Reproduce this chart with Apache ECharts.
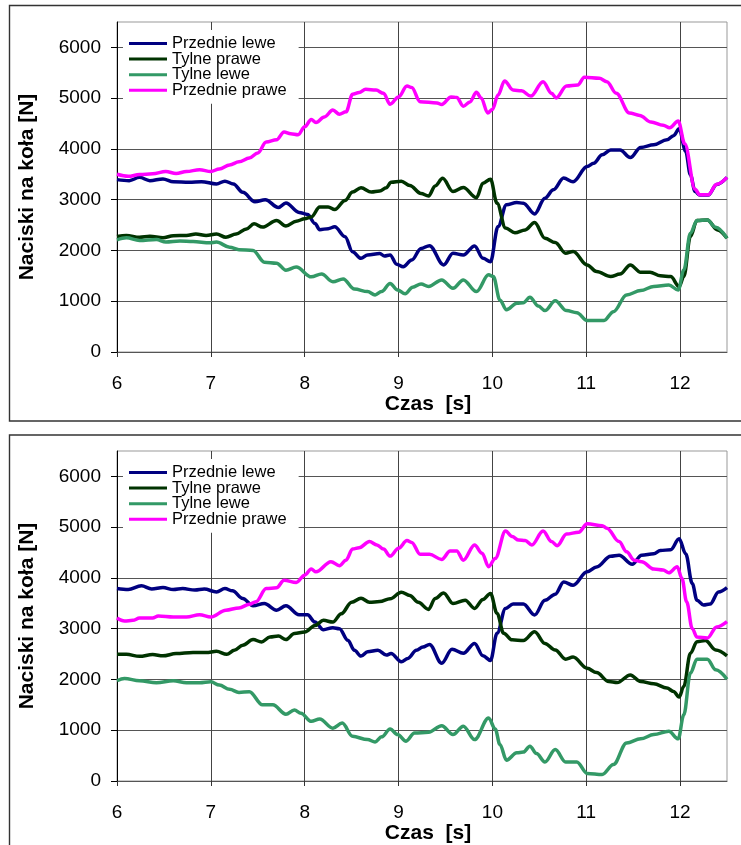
<!DOCTYPE html>
<html>
<head>
<meta charset="utf-8">
<script src="https://cdn.jsdelivr.net/npm/echarts@6/dist/echarts.min.js"></script>
<style>
  html, body { margin: 0; padding: 0; background: #fff; }
  #chart { width: 741px; height: 845px; }
</style>
</head>
<body>
<div id="chart"></div>
<script>
// Series names (legend order)
const seriesNames = ['Przednie lewe', 'Tylne prawe', 'Tylne lewe', 'Przednie prawe'];
const seriesColors = ['#000080', '#003300', '#339966', '#FF00FF'];

// Axis ticks
const timeTicks = [6, 7, 8, 9, 10, 11, 12];
const forceTicks = [0, 1000, 2000, 3000, 4000, 5000, 6000];

// ---------- Upper chart ----------
const upFrontLeftT = [6.00,6.13,6.24,6.35,6.49,6.60,6.77,6.90,7.06,7.15,7.24,7.34,7.47,7.58,7.72,7.80,7.94,8.03,8.11,8.16,8.25,8.32,8.43,8.51,8.60,8.67,8.80,8.85,8.91,8.98,9.05,9.14,9.24,9.33,9.48,9.58,9.69,9.81,9.90,9.98,10.06,10.15,10.26,10.33,10.45,10.56,10.65,10.76,10.86,11.01,11.08,11.17,11.26,11.36,11.47,11.58,11.72,11.86,11.93,11.99,12.06,12.11,12.16,12.21,12.30,12.39,12.50];
const upFrontLeftV = [3395,3375,3440,3375,3410,3355,3345,3355,3310,3365,3310,3145,2960,3000,2845,2935,2750,2710,2530,2410,2430,2465,2270,1975,1845,1910,1940,1890,1910,1730,1680,1810,2040,2095,1715,1945,1910,2090,1845,1780,2470,2900,2945,2930,2720,3030,3195,3425,3355,3655,3720,3885,3980,3980,3830,4030,4080,4180,4260,4395,3950,3490,3160,3090,3090,3300,3440];

const upRearRightT = [6.00,6.10,6.24,6.35,6.49,6.60,6.74,6.84,6.95,7.06,7.16,7.27,7.38,7.46,7.55,7.70,7.80,7.91,8.00,8.07,8.16,8.25,8.32,8.43,8.51,8.60,8.71,8.80,8.87,8.92,9.03,9.12,9.24,9.32,9.39,9.47,9.58,9.69,9.83,9.90,9.98,10.05,10.14,10.24,10.35,10.45,10.56,10.67,10.78,10.86,11.01,11.11,11.26,11.36,11.47,11.58,11.68,11.79,11.90,11.99,12.04,12.11,12.18,12.29,12.40,12.50];
const upRearRightV = [2275,2295,2260,2280,2250,2290,2295,2325,2295,2325,2260,2325,2425,2525,2460,2590,2480,2575,2625,2660,2855,2855,2805,2985,3150,3235,3150,3170,3235,3345,3365,3280,3120,3075,3270,3420,3160,3240,3040,3325,3405,2930,2440,2350,2405,2550,2240,2155,1945,1980,1715,1585,1485,1535,1715,1570,1570,1500,1485,1290,1485,2275,2590,2600,2405,2240];

const upRearLeftT = [6.00,6.10,6.24,6.42,6.52,6.67,6.81,6.99,7.06,7.20,7.30,7.45,7.57,7.70,7.80,7.91,8.07,8.18,8.30,8.41,8.53,8.67,8.75,8.82,8.91,8.99,9.07,9.15,9.24,9.32,9.46,9.58,9.69,9.83,9.96,10.01,10.08,10.15,10.26,10.33,10.40,10.49,10.56,10.67,10.79,10.90,11.01,11.19,11.29,11.43,11.58,11.72,11.88,11.98,12.04,12.11,12.18,12.29,12.38,12.50];
const upRearLeftV = [2210,2250,2195,2215,2165,2185,2175,2150,2165,2065,2015,2000,1770,1750,1610,1675,1480,1535,1385,1440,1240,1190,1125,1190,1350,1220,1145,1275,1340,1290,1420,1255,1420,1190,1520,1485,1025,830,960,970,1080,905,815,1010,815,775,620,620,795,1125,1210,1290,1320,1220,1615,2340,2590,2600,2455,2240];

const upFrontRightT = [6.00,6.12,6.24,6.38,6.52,6.63,6.74,6.88,7.00,7.09,7.20,7.30,7.41,7.50,7.59,7.70,7.78,7.85,7.93,8.00,8.07,8.12,8.21,8.30,8.37,8.44,8.51,8.58,8.65,8.76,8.84,8.91,9.00,9.09,9.14,9.23,9.41,9.46,9.56,9.62,9.69,9.76,9.83,9.88,9.95,10.00,10.06,10.13,10.22,10.31,10.41,10.54,10.63,10.68,10.79,10.91,10.98,11.14,11.22,11.32,11.46,11.57,11.69,11.82,11.89,11.98,12.05,12.16,12.21,12.30,12.39,12.50];
const upFrontRightV = [3500,3460,3495,3510,3555,3515,3555,3590,3555,3605,3685,3745,3820,3920,4135,4180,4335,4300,4280,4435,4580,4520,4630,4765,4685,4730,5075,5110,5175,5160,5095,4880,5025,5240,5210,4930,4905,4875,5025,5015,4840,4925,5115,5005,4710,4775,5060,5340,5160,5145,5040,5325,5095,5005,5240,5260,5410,5390,5325,5095,4710,4660,4530,4465,4415,4550,4100,3205,3095,3095,3305,3440];

// ---------- Lower chart ----------
const lowFrontLeftT = [6.00,6.12,6.26,6.37,6.49,6.60,6.70,6.83,6.93,7.06,7.15,7.23,7.34,7.45,7.57,7.70,7.80,7.94,8.03,8.11,8.20,8.30,8.37,8.46,8.53,8.60,8.67,8.78,8.87,8.92,9.03,9.10,9.19,9.26,9.33,9.46,9.57,9.69,9.81,9.90,9.98,10.05,10.14,10.22,10.33,10.45,10.56,10.67,10.76,10.86,11.01,11.11,11.26,11.35,11.49,11.59,11.72,11.79,11.90,11.99,12.06,12.13,12.18,12.25,12.32,12.41,12.50];
const lowFrontLeftV = [3790,3770,3845,3780,3810,3770,3790,3760,3780,3725,3790,3745,3595,3450,3495,3365,3450,3275,3275,3130,2980,3020,3000,2770,2575,2460,2545,2575,2480,2510,2350,2415,2575,2640,2690,2320,2595,2515,2710,2465,2375,2910,3400,3485,3485,3270,3560,3680,3920,3855,4120,4215,4425,4445,4270,4445,4475,4540,4555,4770,4475,3890,3560,3465,3485,3725,3810];

const lowRearRightT = [6.00,6.10,6.24,6.38,6.49,6.63,6.81,6.95,7.06,7.17,7.25,7.34,7.45,7.54,7.63,7.72,7.80,7.89,8.00,8.11,8.20,8.30,8.39,8.50,8.60,8.69,8.80,8.91,9.03,9.12,9.21,9.32,9.39,9.48,9.58,9.71,9.81,9.90,9.98,10.05,10.12,10.21,10.33,10.45,10.56,10.67,10.78,10.86,11.01,11.11,11.24,11.33,11.47,11.58,11.72,11.86,11.93,11.99,12.04,12.11,12.18,12.27,12.38,12.50];
const lowRearRightV = [2495,2495,2455,2490,2465,2510,2530,2530,2555,2495,2575,2675,2785,2740,2835,2855,2785,2905,2935,3065,3165,3130,3295,3520,3600,3520,3535,3590,3720,3655,3520,3380,3595,3705,3495,3560,3400,3575,3695,3300,2910,2780,2765,2940,2710,2580,2400,2440,2220,2135,1960,1940,2090,1960,1915,1830,1765,1655,1865,2515,2745,2765,2580,2465];

const lowRearLeftT = [6.00,6.08,6.24,6.42,6.60,6.74,6.88,7.00,7.09,7.20,7.30,7.41,7.55,7.66,7.80,7.89,7.96,8.07,8.16,8.30,8.40,8.51,8.67,8.75,8.82,8.91,8.99,9.08,9.17,9.32,9.46,9.58,9.69,9.81,9.96,10.03,10.08,10.15,10.26,10.33,10.40,10.47,10.56,10.67,10.78,10.90,11.01,11.17,11.29,11.43,11.58,11.72,11.88,11.98,12.04,12.11,12.18,12.29,12.38,12.50];
const lowRearLeftV = [1975,2020,1975,1935,1975,1935,1935,1955,1890,1805,1745,1760,1500,1500,1315,1400,1335,1175,1220,1040,1140,880,815,770,870,1025,915,785,945,960,1090,915,1080,815,1240,1025,720,410,555,570,685,540,375,620,375,375,150,130,325,750,830,915,980,830,1305,2125,2400,2400,2190,2005];

const lowFrontRightT = [6.00,6.08,6.17,6.24,6.38,6.44,6.60,6.74,6.88,7.00,7.16,7.30,7.41,7.48,7.59,7.70,7.78,7.91,8.00,8.07,8.12,8.28,8.37,8.44,8.51,8.58,8.69,8.77,8.84,8.91,9.00,9.09,9.14,9.23,9.33,9.46,9.55,9.62,9.69,9.81,9.89,9.96,10.03,10.14,10.21,10.28,10.35,10.42,10.54,10.63,10.69,10.79,10.92,11.01,11.17,11.22,11.35,11.43,11.51,11.59,11.72,11.82,11.88,11.97,12.02,12.07,12.13,12.18,12.29,12.39,12.50];
const lowFrontRightV = [3210,3150,3165,3210,3210,3250,3230,3230,3275,3230,3365,3410,3480,3530,3790,3805,3955,3910,4055,4175,4120,4320,4240,4350,4570,4595,4715,4650,4570,4430,4585,4735,4700,4465,4465,4365,4530,4530,4350,4650,4485,4220,4385,4925,4815,4745,4735,4650,4925,4715,4635,4865,4900,5065,5030,4980,4715,4515,4350,4320,4175,4155,4100,4220,3990,3530,3000,2835,2815,3035,3140];

const pairs = (t, v) => t.map((x, i) => [x, v[i]]);

const panels = [
  { top: 22, boxY: 5.5, boxH: 415.5, legendTop: 30,
    data: [[upFrontLeftT, upFrontLeftV], [upRearRightT, upRearRightV], [upRearLeftT, upRearLeftV], [upFrontRightT, upFrontRightV]] },
  { top: 451, boxY: 435, boxH: 440, legendTop: 459,
    data: [[lowFrontLeftT, lowFrontLeftV], [lowRearRightT, lowRearRightV], [lowRearLeftT, lowRearLeftV], [lowFrontRightT, lowFrontRightV]] }
];

const FONT = '"Liberation Sans", Arial, sans-serif';

const option = {
  animation: false,
  backgroundColor: '#ffffff',
  // frame around each chart
  graphic: panels.map(p => ({
    type: 'rect', z: -10, silent: true,
    shape: { x: 9.5, y: p.boxY, width: 760, height: p.boxH },
    style: { fill: 'none', stroke: '#333', lineWidth: 1.4 }
  })),
  grid: panels.map(p => ({
    left: 117, right: 14, top: p.top, height: 330,
    show: true, borderColor: '#999', borderWidth: 1, backgroundColor: 'transparent'
  })),
  legend: panels.map(p => ({
    orient: 'vertical', left: 123, top: p.legendTop,
    data: seriesNames, icon: 'rect', itemWidth: 38, itemHeight: 3, itemGap: -1.4,
    backgroundColor: '#ffffff', padding: [5, 12, 5, 6], selectedMode: false,
    textStyle: { fontFamily: FONT, fontSize: 16.5, color: '#000' }
  })),
  xAxis: panels.map((p, i) => ({
    type: 'value', gridIndex: i, min: 6, max: 12.5, interval: 1,
    name: 'Czas  [s]', nameLocation: 'middle', nameGap: 39,
    nameTextStyle: { fontFamily: FONT, fontSize: 21, fontWeight: 'bold', color: '#000', padding: [0, 0, 0, 12] },
    axisLine: { show: true, onZero: false, lineStyle: { color: '#555', width: 1 } },
    axisTick: { show: true, length: 5, customValues: timeTicks, lineStyle: { color: '#333' } },
    axisLabel: { customValues: timeTicks, margin: 22, fontFamily: FONT, fontSize: 19, color: '#000' },
    splitLine: { show: true, lineStyle: { color: '#444', width: 1 } }
  })),
  yAxis: panels.map((p, i) => ({
    type: 'value', gridIndex: i, min: 0, max: 6500, interval: 1000,
    name: 'Naciski na koła [N]', nameLocation: 'middle', nameGap: 79,
    nameTextStyle: { fontFamily: FONT, fontSize: 21, fontWeight: 'bold', color: '#000' },
    axisLine: { show: true, lineStyle: { color: '#000', width: 1 } },
    axisTick: { show: true, length: 6, customValues: forceTicks, lineStyle: { color: '#000' } },
    axisLabel: { customValues: forceTicks, margin: 16, fontFamily: FONT, fontSize: 19, color: '#000',
      formatter: v => String(v) },
    splitLine: { show: true, lineStyle: { color: '#555', width: 1 } }
  })),
  series: []
};

panels.forEach((p, pi) => {
  p.data.forEach((d, si) => {
    option.series.push({
      type: 'line', name: seriesNames[si], xAxisIndex: pi, yAxisIndex: pi,
      data: pairs(d[0], d[1]), showSymbol: false, smooth: 0.35, smoothMonotone: 'x',
      color: seriesColors[si],
      lineStyle: { width: 3.5, color: seriesColors[si] }
    });
  });
});

const chart = echarts.init(document.getElementById('chart'), null, { renderer: 'canvas' });
chart.setOption(option);
</script>
</body>
</html>
